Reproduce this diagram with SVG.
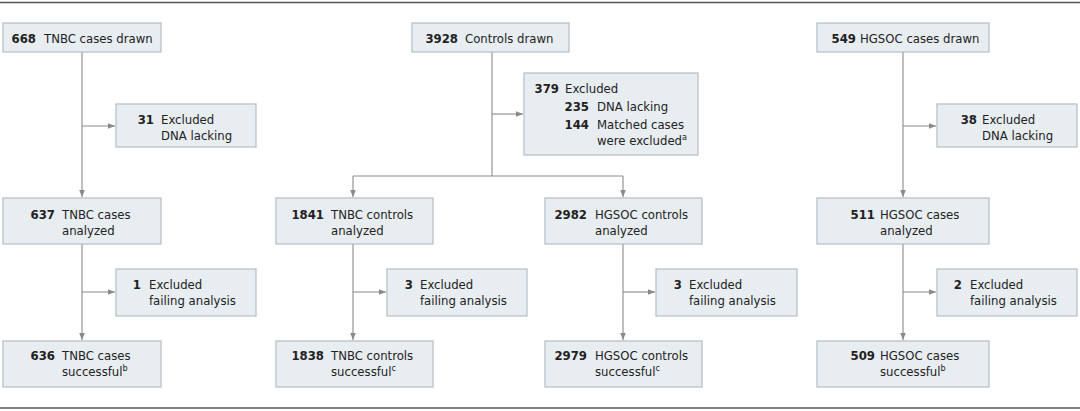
<svg xmlns="http://www.w3.org/2000/svg" width="1080" height="411" viewBox="0 0 1080 411">
<defs>
<marker id="ah" viewBox="0 0 8 8" refX="8" refY="4" markerWidth="7" markerHeight="7" markerUnits="userSpaceOnUse" orient="auto">
<path d="M0,0.8 L8,4 L0,7.2 z" fill="#8a8a8a"/>
</marker>
<style>
.bx{fill:#e8edf2;stroke:#b4bcc4;stroke-width:1.2}
text{font-family:"DejaVu Sans Condensed","Liberation Sans Narrow","Liberation Sans",sans-serif;font-size:13px;fill:#222}
.n{font-weight:bold;text-anchor:end}
.sup{font-size:9px}
.c{fill:none;stroke:#8a8a8a;stroke-width:1.1}
.a{marker-end:url(#ah)}
.rule{stroke:#555;stroke-width:1.6}
</style>
</defs>
<line class="rule" x1="0" y1="2.5" x2="1080" y2="2.5"/>
<line class="rule" x1="0" y1="408" x2="1080" y2="408"/>

<g id="connectors">
<path class="c a" d="M82,52 V197"/>
<path class="c a" d="M82,126 H115"/>
<path class="c a" d="M82,244 V340"/>
<path class="c a" d="M82,292 H115"/>
<path class="c" d="M492,52 V176"/>
<path class="c a" d="M492,114 H523"/>
<path class="c" d="M353,176 H623"/>
<path class="c a" d="M353,176 V197"/>
<path class="c a" d="M623,176 V197"/>
<path class="c a" d="M353,244 V340"/>
<path class="c a" d="M353,292 H386"/>
<path class="c a" d="M623,244 V340"/>
<path class="c a" d="M623,292 H655"/>
<path class="c a" d="M903,52 V197"/>
<path class="c a" d="M903,126 H936"/>
<path class="c a" d="M903,244 V340"/>
<path class="c a" d="M903,292 H936"/>
</g>

<g id="tnbc-drawn"><rect class="bx" x="3" y="23" width="158" height="29"/>
<text class="n" x="36" y="43">668</text><text x="44" y="43">TNBC cases drawn</text></g>
<g id="tnbc-excl-dna"><rect class="bx" x="116" y="104" width="140" height="43"/>
<text class="n" x="154" y="124">31</text><text x="161" y="124">Excluded</text><text x="161" y="140">DNA lacking</text></g>
<g id="tnbc-analyzed"><rect class="bx" x="3" y="198" width="158" height="46"/>
<text class="n" x="55" y="219">637</text><text x="62" y="219">TNBC cases</text><text x="62" y="235">analyzed</text></g>
<g id="tnbc-excl-fail"><rect class="bx" x="116" y="269" width="140" height="47"/>
<text class="n" x="141" y="289">1</text><text x="149" y="289">Excluded</text><text x="149" y="305">failing analysis</text></g>
<g id="tnbc-success"><rect class="bx" x="3" y="341" width="158" height="46"/>
<text class="n" x="55" y="360">636</text><text x="62" y="360">TNBC cases</text><text x="62" y="376">successful<tspan class="sup" dy="-5">b</tspan></text></g>

<g id="controls-drawn"><rect class="bx" x="412" y="23" width="157" height="29"/>
<text class="n" x="458" y="43">3928</text><text x="465" y="43">Controls drawn</text></g>
<g id="controls-excl"><rect class="bx" x="524" y="73" width="174" height="82"/>
<text class="n" x="559" y="93">379</text><text x="565" y="93">Excluded</text>
<text class="n" x="589" y="111">235</text><text x="597" y="111">DNA lacking</text>
<text class="n" x="589" y="129">144</text><text x="597" y="129">Matched cases</text>
<text x="597" y="145">were excluded<tspan class="sup" dy="-5">a</tspan></text></g>
<g id="tnbc-controls-analyzed"><rect class="bx" x="276" y="198" width="157" height="46"/>
<text class="n" x="324" y="219">1841</text><text x="331" y="219">TNBC controls</text><text x="331" y="235">analyzed</text></g>
<g id="tnbc-controls-excl"><rect class="bx" x="387" y="269" width="140" height="47"/>
<text class="n" x="413" y="289">3</text><text x="420" y="289">Excluded</text><text x="420" y="305">failing analysis</text></g>
<g id="tnbc-controls-success"><rect class="bx" x="276" y="341" width="157" height="46"/>
<text class="n" x="324" y="360">1838</text><text x="331" y="360">TNBC controls</text><text x="331" y="376">successful<tspan class="sup" dy="-5">c</tspan></text></g>
<g id="hgsoc-controls-analyzed"><rect class="bx" x="545" y="198" width="157" height="46"/>
<text class="n" x="587" y="219">2982</text><text x="595" y="219">HGSOC controls</text><text x="595" y="235">analyzed</text></g>
<g id="hgsoc-controls-excl"><rect class="bx" x="656" y="269" width="141" height="47"/>
<text class="n" x="682" y="289">3</text><text x="689" y="289">Excluded</text><text x="689" y="305">failing analysis</text></g>
<g id="hgsoc-controls-success"><rect class="bx" x="545" y="341" width="157" height="46"/>
<text class="n" x="587" y="360">2979</text><text x="595" y="360">HGSOC controls</text><text x="595" y="376">successful<tspan class="sup" dy="-5">c</tspan></text></g>

<g id="hgsoc-drawn"><rect class="bx" x="817" y="23" width="172" height="29"/>
<text class="n" x="856" y="43">549</text><text x="860" y="43">HGSOC cases drawn</text></g>
<g id="hgsoc-excl-dna"><rect class="bx" x="937" y="104" width="140" height="43"/>
<text class="n" x="977" y="124">38</text><text x="982" y="124">Excluded</text><text x="982" y="140">DNA lacking</text></g>
<g id="hgsoc-analyzed"><rect class="bx" x="817" y="198" width="172" height="46"/>
<text class="n" x="875" y="219">511</text><text x="880" y="219">HGSOC cases</text><text x="880" y="235">analyzed</text></g>
<g id="hgsoc-excl-fail"><rect class="bx" x="937" y="269" width="140" height="47"/>
<text class="n" x="962" y="289">2</text><text x="970" y="289">Excluded</text><text x="970" y="305">failing analysis</text></g>
<g id="hgsoc-success"><rect class="bx" x="817" y="341" width="172" height="46"/>
<text class="n" x="875" y="360">509</text><text x="880" y="360">HGSOC cases</text><text x="880" y="376">successful<tspan class="sup" dy="-5">b</tspan></text></g>
</svg>
